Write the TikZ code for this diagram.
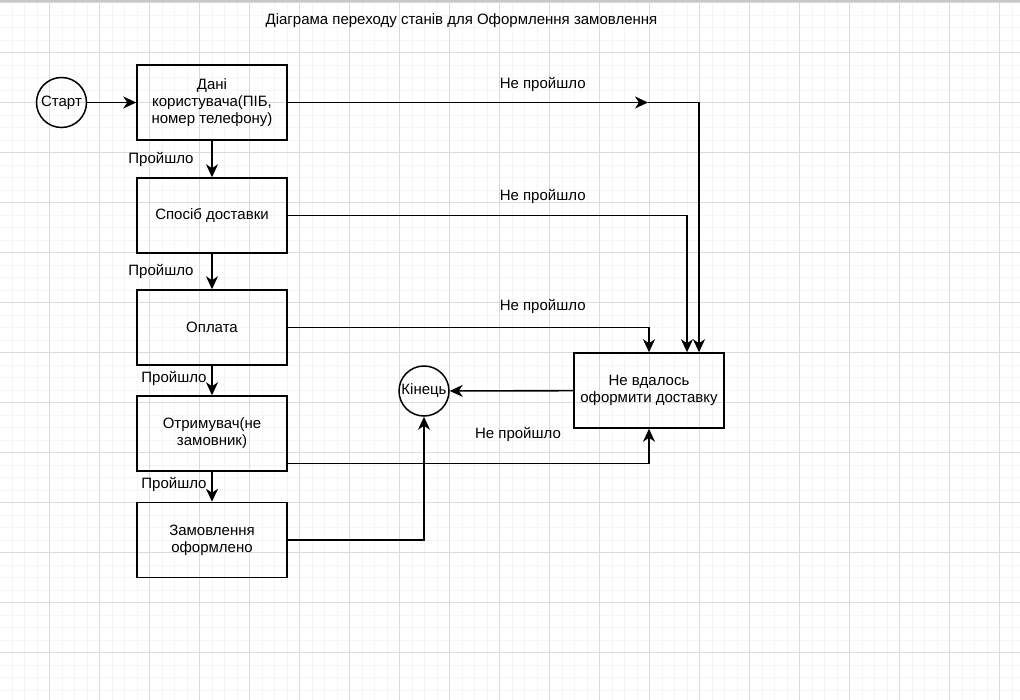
\documentclass[tikz,border=0pt]{standalone}
\usepackage{fontspec}
\setmainfont{Liberation Sans}
\usetikzlibrary{arrows.meta,calc}
\begin{document}
\begin{tikzpicture}[x=1pt,y=-1pt,
  every node/.style={font=\fontsize{15}{17}\selectfont},
  box/.style={draw, line width=1.5pt, minimum width=150pt, minimum height=75pt, align=center, inner sep=2pt},
  circ/.style={draw, circle, line width=1.5pt, minimum size=50pt, inner sep=0pt},
  arr/.style={line width=1.6pt, -{Stealth[length=13pt,width=12pt,inset=4pt]}},
  lbl/.style={inner sep=0pt},
  minorgrid/.style={draw=black!4, line width=0.8pt},
  majorgrid/.style={draw=black!14, line width=0.8pt}]
\useasboundingbox (0,0) rectangle (1020,700);
\fill[white] (0,0) rectangle (1020,700);
% grid
\foreach \i in {0,...,81} \draw[minorgrid] ({12+12.5*\i},0) -- ({12+12.5*\i},700);
\foreach \i in {0,...,55} \draw[minorgrid] (0,{2.5+12.5*\i}) -- (1020,{2.5+12.5*\i});
\foreach \i in {0,...,19} \draw[majorgrid] ({49.5+50*\i},0) -- ({49.5+50*\i},700);
\foreach \i in {0,...,13} \draw[majorgrid] (0,{2.5+50*\i}) -- (1020,{2.5+50*\i});
\fill[black!22] (0,0) rectangle (1020,2.5);

% title
\node[lbl] (title) at (461.5,21) {Діаграма переходу станів для Оформлення замовлення};

% nodes
\node[circ] (start) at (61.5,102.5) {Старт};
\node[box] (b1) at (212,102.5) {Дані\\користувача(ПІБ,\\номер телефону)};
\node[box] (b2) at (212,215.5) {Спосіб доставки};
\node[box] (b3) at (212,327.5) {Оплата};
\node[box] (b4) at (212,433.5) {Отримувач(не\\замовник)};
\node[box] (b5) at (212,540) {Замовлення\\оформлено};
\node[box] (fail) at (649,390.5) {Не вдалось\\оформити доставку};
\node[circ] (end) at (424,391) {Кінець};

\coordinate (m1) at (648,102.5);

% pass transitions
\draw[arr] (start) -- (b1);
\draw[arr] (b1) -- (b2);
\draw[arr] (b2) -- (b3);
\draw[arr] (b3) -- (b4);
\draw[arr] (b4) -- (b5);

% fail transitions
\draw[arr] (b1.east) -- (m1);
\draw[arr] (m1) -| ($(fail.north)+(50,0)$);
\draw[arr] (b2.east) -| ($(fail.north)+(38,0)$);
\draw[arr] (b3.east) -| (fail.north);
\draw[arr] ($(b4.east)+(0,30)$) -| (fail.south);
\draw[arr] (fail) -- (end);
\draw[arr] (b5.east) -| (end.south);

% labels
\node[lbl] (p1) at (161,159) {Пройшло};
\node[lbl] (p2) at (161,271.5) {Пройшло};
\node[lbl] (p3) at (174,378) {Пройшло};
\node[lbl] (p4) at (174,484) {Пройшло};
\node[lbl] (n1) at (542.7,84) {Не пройшло};
\node[lbl] (n2) at (542.7,196.7) {Не пройшло};
\node[lbl] (n3) at (542.7,306.7) {Не пройшло};
\node[lbl] (n4) at (518,434) {Не пройшло};
\end{tikzpicture}
\end{document}
